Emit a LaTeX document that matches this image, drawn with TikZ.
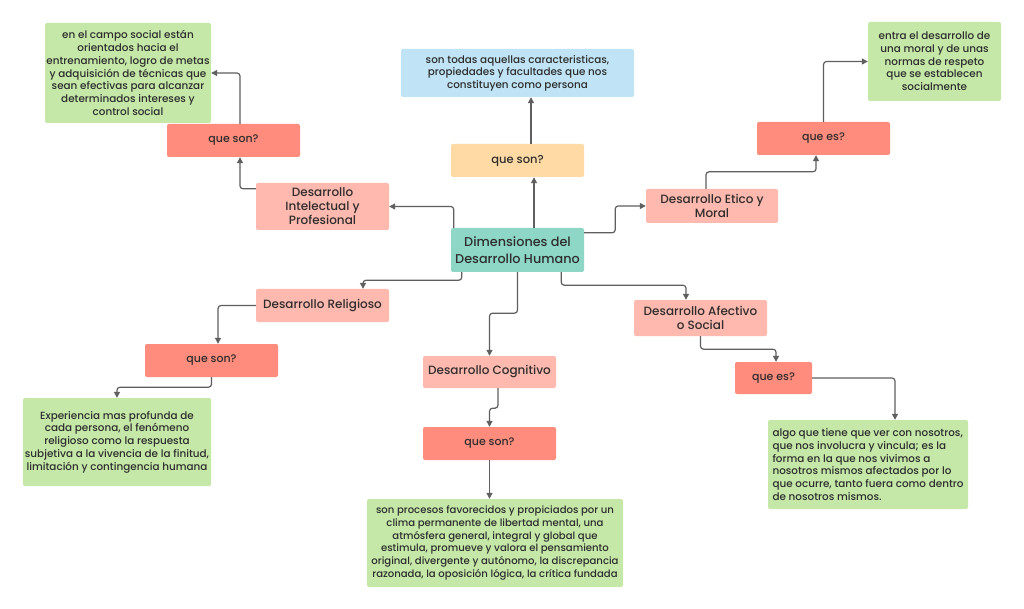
\documentclass[tikz,border=0pt]{standalone}
\usepackage{fontspec}
\IfFontExistsTF{Poppins Medium}{\setmainfont{Poppins Medium}}{\setmainfont{Poppins}}
\usetikzlibrary{arrows.meta}
\definecolor{cgreen}{RGB}{197,232,168}
\definecolor{cred}{RGB}{255,140,125}
\definecolor{cpink}{RGB}{255,185,175}
\definecolor{cblue}{RGB}{192,228,245}
\definecolor{corange}{RGB}{255,218,165}
\definecolor{cteal}{RGB}{142,214,198}
\definecolor{ctext}{RGB}{45,45,45}
\definecolor{cline}{RGB}{95,95,95}
\tikzset{
  box/.style={rectangle, rounded corners=2pt, inner sep=0pt, align=center, text=ctext},
  greenbox/.style={box, fill=cgreen, font=\fontsize{10.4}{12.7}\selectfont},
  qbox/.style={box, fill=cred, font=\fontsize{11}{13}\selectfont},
  devbox/.style={box, fill=cpink, font=\fontsize{12}{14}\selectfont},
  conn/.style={draw=cline, line width=1.2pt, rounded corners=3pt, -{Triangle[length=6pt,width=6pt]}}
}
\begin{document}
\begin{tikzpicture}[x=1pt,y=-1pt]
\useasboundingbox[fill=white] (0,0) rectangle (1024,609);
% center
\node[box, fill=cteal, minimum width=133pt, minimum height=44pt, font=\fontsize{12.8}{16.5}\selectfont] (c) at (517.5,250) {Dimensiones del\\Desarrollo Humano};
% top
\node[box, fill=corange, minimum width=133pt, minimum height=33pt, font=\fontsize{11.5}{13}\selectfont] (or) at (517.5,160.5) {que son?};
\node[box, fill=cblue, minimum width=233pt, minimum height=48pt, font=\fontsize{10.4}{12.5}\selectfont] (bl) at (517.5,73) {son todas aquellas caracteristicas,\\propiedades y facultades que nos\\constituyen como persona};
% intelectual
\node[devbox, minimum width=133pt, minimum height=47pt] (int) at (322.5,206.5) {Desarrollo\\Intelectual y\\Profesional};
\node[qbox, minimum width=133pt, minimum height=33pt] (qs1) at (233.5,140.5) {que son?};
\node[greenbox, minimum width=166pt, minimum height=100pt] (g1) at (128,73) {en el campo social están\\orientados hacia el\\entrenamiento, logro de metas\\y adquisición de técnicas que\\sean efectivas para alcanzar\\determinados intereses y\\control social};
% etico
\node[devbox, minimum width=132pt, minimum height=34pt] (eti) at (712,206) {Desarrollo Etico y\\Moral};
\node[qbox, minimum width=133pt, minimum height=33pt] (qe1) at (823.5,138.5) {que es?};
\node[greenbox, minimum width=133pt, minimum height=79pt] (g2) at (934.5,61.5) {entra el desarrollo de\\una moral y de unas\\normas de respeto\\que se establecen\\socialmente};
% religioso
\node[devbox, minimum width=133pt, minimum height=33pt] (rel) at (322.5,305.5) {Desarrollo Religioso};
\node[qbox, minimum width=133pt, minimum height=33pt] (qs2) at (211.5,360.5) {que son?};
\node[greenbox, minimum width=188pt, minimum height=88pt] (g3) at (117,442) {Experiencia mas profunda de\\cada persona, el fenómeno\\religioso como la respuesta\\subjetiva a la vivencia de la finitud,\\limitación y contingencia humana};
% cognitivo
\node[devbox, minimum width=133pt, minimum height=32pt] (cog) at (489.5,372) {Desarrollo Cognitivo};
\node[qbox, minimum width=133pt, minimum height=33pt] (qs3) at (489.5,443.5) {que son?};
\node[greenbox, minimum width=256pt, minimum height=88pt, font=\fontsize{10.1}{12.7}\selectfont] (g4) at (495,543) {son procesos favorecidos y propiciados por un\\clima permanente de libertad mental, una\\atmósfera general, integral y global que\\estimula, promueve y valora el pensamiento\\original, divergente y autónomo, la discrepancia\\razonada, la oposición lógica, la crítica fundada};
% afectivo
\node[devbox, minimum width=133pt, minimum height=36pt] (afe) at (700.5,318) {Desarrollo Afectivo\\o Social};
\node[qbox, minimum width=77pt, minimum height=32pt] (qe2) at (773.5,378) {que es?};
\node[greenbox, minimum width=200pt, minimum height=89pt, align=left] (g5) at (868,464.5) {algo que tiene que ver con nosotros,\\que nos involucra y vincula; es la\\forma en la que nos vivimos a\\nosotros mismos afectados por lo\\que ocurre, tanto fuera como dentro\\de nosotros mismos.};
% connectors
\draw[conn] ([xshift=3pt]c.north west) |- (int);
\draw[conn] ([yshift=-6pt]int.north west) -| ([xshift=6.5pt]qs1.south);
\draw[conn] ([xshift=6.5pt]qs1.north) |- (g1.east);
\draw[conn] ([xshift=16.5pt]c.north) -- ([xshift=16.5pt]or.south);
\draw[conn] ([xshift=13.5pt]or.north) -- ([xshift=13.5pt]bl.south);
\draw[conn] ([yshift=-5pt]c.north east) -- ++(31,0) |- (eti.west);
\draw[conn] ([xshift=-6pt]eti.north) -- ++(0,-17) -| ([xshift=-7.5pt]qe1.south);
\draw[conn] (qe1.north) |- (g2.west);
\draw[conn] ([xshift=11pt]c.south west) -- ++(0,8) -| ([xshift=40.5pt]rel.north);
\draw[conn] (rel.west) -| ([xshift=6.5pt]qs2.north);
\draw[conn] (qs2.south) -- ++(0,10) -| (g3.north);
\draw[conn] (c.south) -- ++(0,41) -| (cog.north);
\draw[conn] ([xshift=8.5pt]cog.south) -- ++(0,20) -| (qs3.north);
\draw[conn] (qs3.south) -- (qs3.south |- g4.north);
\draw[conn] ([xshift=-23pt]c.south east) -- ++(0,13) -| ([xshift=-14.5pt]afe.north);
\draw[conn] (afe.south) -- ++(0,13) -| ([xshift=2.5pt]qe2.north);
\draw[conn] (qe2.east) -| ([xshift=27pt]g5.north);
\end{tikzpicture}
\end{document}
